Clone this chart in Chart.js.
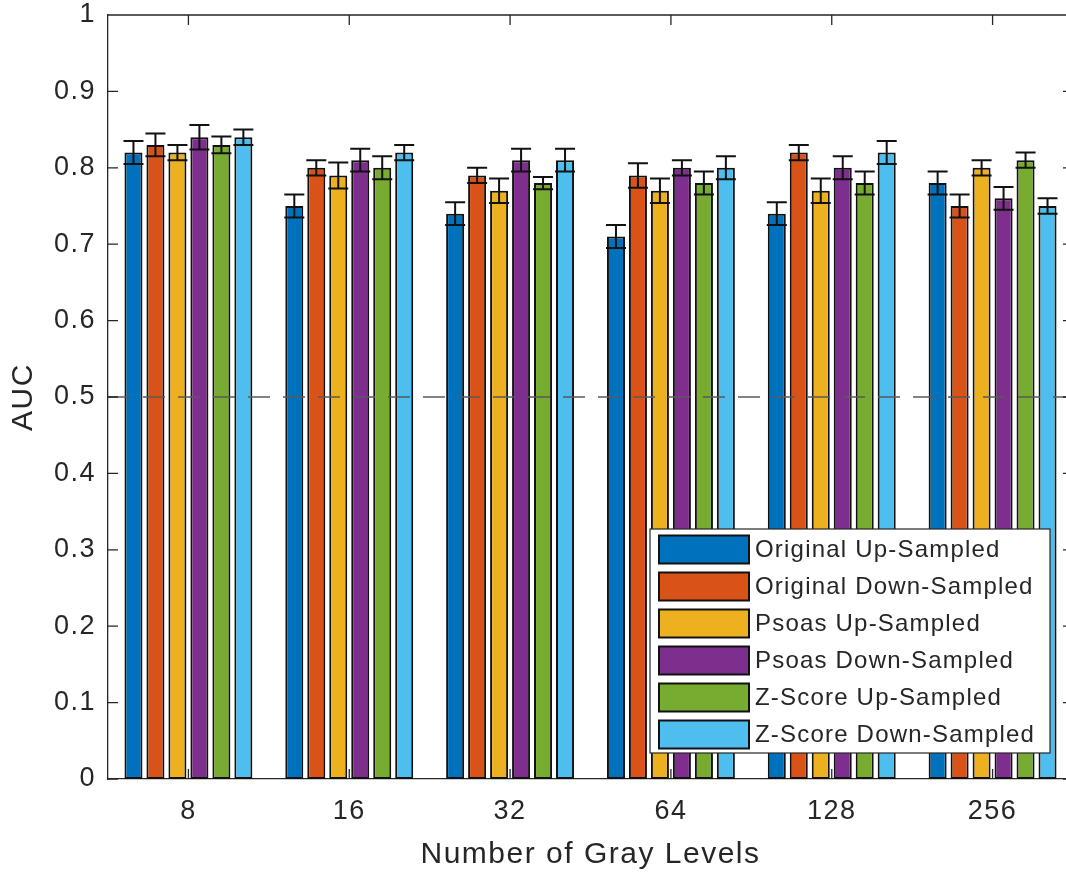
<!DOCTYPE html>
<html>
<head>
<meta charset="utf-8">
<script src="https://cdn.jsdelivr.net/npm/chart.js@4.4.1/dist/chart.umd.min.js"></script>
<style>
html, body { margin: 0; padding: 0; background: #fff; overflow: hidden; }
#wrap { width: 1080px; height: 876px; }
</style>
</head>
<body>
<div id="wrap"><canvas id="aucChart" width="1080" height="876"></canvas></div>
<script>
var grayLevels = ['8', '16', '32', '64', '128', '256'];
var yTickLabels = ['0', '0.1', '0.2', '0.3', '0.4', '0.5', '0.6', '0.7', '0.8', '0.9', '1'];

var seriesNames = ['Original Up-Sampled', 'Original Down-Sampled', 'Psoas Up-Sampled',
                   'Psoas Down-Sampled', 'Z-Score Up-Sampled', 'Z-Score Down-Sampled'];

var origUp      = [0.82, 0.75, 0.74, 0.71, 0.74, 0.78];
var origDown    = [0.83, 0.80, 0.79, 0.79, 0.82, 0.75];
var psoasUp     = [0.82, 0.79, 0.77, 0.77, 0.77, 0.80];
var psoasDown   = [0.84, 0.81, 0.81, 0.80, 0.80, 0.76];
var zscoreUp    = [0.83, 0.80, 0.78, 0.78, 0.78, 0.81];
var zscoreDown  = [0.84, 0.82, 0.81, 0.80, 0.82, 0.75];

// +/- spread drawn as error bars
var origUpErr     = [0.015, 0.015, 0.015, 0.015, 0.015, 0.015];
var origDownErr   = [0.015, 0.010, 0.010, 0.016, 0.010, 0.015];
var psoasUpErr    = [0.010, 0.017, 0.016, 0.016, 0.016, 0.010];
var psoasDownErr  = [0.016, 0.015, 0.015, 0.010, 0.015, 0.015];
var zscoreUpErr   = [0.011, 0.015, 0.008, 0.015, 0.015, 0.010];
var zscoreDownErr = [0.010, 0.010, 0.015, 0.015, 0.015, 0.010];

var chanceLevel = 0.5;

var barColors = ['#0072BD', '#D95319', '#EDB120', '#7E2F8E', '#77AC30', '#4DBEEE'];
var axisColor = '#262626';

Chart.defaults.font.family = "'Liberation Sans', Arial, Helvetica, sans-serif";
Chart.defaults.color = axisColor;

var values = [origUp, origDown, psoasUp, psoasDown, zscoreUp, zscoreDown];
var errors = [origUpErr, origDownErr, psoasUpErr, psoasDownErr, zscoreUpErr, zscoreDownErr];

var datasets = values.map(function (v, d) {
    return {
        label: seriesNames[d],
        data: v,
        errors: errors[d],
        backgroundColor: barColors[d],
        borderColor: '#111',
        borderWidth: 2,
        borderSkipped: false,
        categoryPercentage: 0.82,
        barPercentage: 0.82
    };
});

// matlab-ish axes: inward ticks, boxed frame, error bars, dashed chance line, legend inside
var axesPlugin = {
    id: 'axesExtras',
    beforeDraw: function (chart) {
        chart.ctx.letterSpacing = '1.5px';
    },
    afterDatasetsDraw: function (chart) {
        var ctx = chart.ctx, area = chart.chartArea;
        var xs = chart.scales.x, ys = chart.scales.y;
        ctx.save();

        // error bars
        ctx.strokeStyle = '#111';
        ctx.lineWidth = 2;
        chart.data.datasets.forEach(function (ds, d) {
            var meta = chart.getDatasetMeta(d);
            meta.data.forEach(function (bar, i) {
                var hi = ys.getPixelForValue(ds.data[i] + ds.errors[i]);
                var lo = ys.getPixelForValue(ds.data[i] - ds.errors[i]);
                var cap = 10;
                ctx.beginPath();
                ctx.moveTo(bar.x, hi); ctx.lineTo(bar.x, lo);
                ctx.moveTo(bar.x - cap, hi); ctx.lineTo(bar.x + cap, hi);
                ctx.moveTo(bar.x - cap, lo); ctx.lineTo(bar.x + cap, lo);
                ctx.stroke();
            });
        });

        // chance level
        var yc = ys.getPixelForValue(chanceLevel);
        ctx.strokeStyle = '#5a5a5a';
        ctx.lineWidth = 1.5;
        ctx.setLineDash([22, 13]);
        ctx.beginPath();
        ctx.moveTo(area.left, yc); ctx.lineTo(area.right, yc);
        ctx.stroke();
        ctx.setLineDash([]);

        // frame + inward ticks
        ctx.strokeStyle = axisColor;
        ctx.lineWidth = 1.3;
        ctx.beginPath();
        ctx.moveTo(area.left, area.top); ctx.lineTo(area.right, area.top);
        ctx.moveTo(area.right, area.top); ctx.lineTo(area.right, area.bottom);
        var tl = 10;
        ys.ticks.forEach(function (t) {
            var py = ys.getPixelForValue(t.value);
            ctx.moveTo(area.left, py); ctx.lineTo(area.left + tl, py);
            ctx.moveTo(area.right, py); ctx.lineTo(area.right - tl, py);
        });
        grayLevels.forEach(function (g, i) {
            var px = xs.getPixelForTick(i);
            ctx.moveTo(px, area.bottom); ctx.lineTo(px, area.bottom - tl);
            ctx.moveTo(px, area.top); ctx.lineTo(px, area.top + tl);
        });
        ctx.stroke();
        ctx.restore();
    },
    afterDraw: function (chart) {
        var ctx = chart.ctx, area = chart.chartArea;
        var boxW = 400, boxH = 224;
        var left = area.right - 23 - boxW, top = area.bottom - 26 - boxH;
        ctx.save();
        ctx.fillStyle = '#fff';
        ctx.fillRect(left, top, boxW, boxH);
        ctx.strokeStyle = axisColor;
        ctx.lineWidth = 1.2;
        ctx.strokeRect(left, top, boxW, boxH);

        ctx.font = "24px 'Liberation Sans', Arial, sans-serif";
        ctx.letterSpacing = '1.2px';
        ctx.textBaseline = 'middle';
        ctx.textAlign = 'left';
        chart.data.datasets.forEach(function (ds, d) {
            var cy = top + 20.5 + d * 37;
            ctx.fillStyle = ds.backgroundColor;
            ctx.fillRect(left + 9, cy - 14, 90, 28);
            ctx.strokeStyle = '#111';
            ctx.lineWidth = 2;
            ctx.strokeRect(left + 9, cy - 14, 90, 28);
            ctx.fillStyle = axisColor;
            ctx.fillText(ds.label, left + 105, cy + 1);
        });
        ctx.restore();
    }
};

var ctx = document.getElementById('aucChart').getContext('2d');
var aucChart = new Chart(ctx, {
    type: 'bar',
    data: {
        labels: grayLevels,
        datasets: datasets
    },
    options: {
        responsive: false,
        animation: false,
        layout: { padding: { left: 0, right: 7, top: 15, bottom: 0 } },
        plugins: {
            legend: { display: false },
            tooltip: { enabled: false }
        },
        scales: {
            x: {
                grid: { display: false, drawTicks: false },
                border: { display: true, color: axisColor, width: 1.3 },
                ticks: { font: { size: 27, lineHeight: 1 }, padding: 19, color: axisColor },
                title: {
                    display: true,
                    text: 'Number of Gray Levels',
                    font: { size: 30 },
                    color: axisColor,
                    padding: { top: 0, bottom: 3 }
                },
                afterFit: function (scale) { scale.height = 97; }
            },
            y: {
                min: 0,
                max: 1,
                grid: { display: false, drawTicks: false },
                border: { display: true, color: axisColor, width: 1.3 },
                ticks: {
                    stepSize: 0.1,
                    font: { size: 27, lineHeight: 1 },
                    padding: 12,
                    color: axisColor,
                    callback: function (v, i) { return yTickLabels[i]; }
                },
                title: {
                    display: true,
                    text: 'AUC',
                    font: { size: 30 },
                    color: axisColor,
                    padding: { top: 6, bottom: 0 }
                },
                afterFit: function (scale) {
                    scale.width = 108;
                    scale.paddingTop = 0;
                    scale.paddingBottom = 0;
                }
            }
        }
    },
    plugins: [axesPlugin]
});
</script>
</body>
</html>
